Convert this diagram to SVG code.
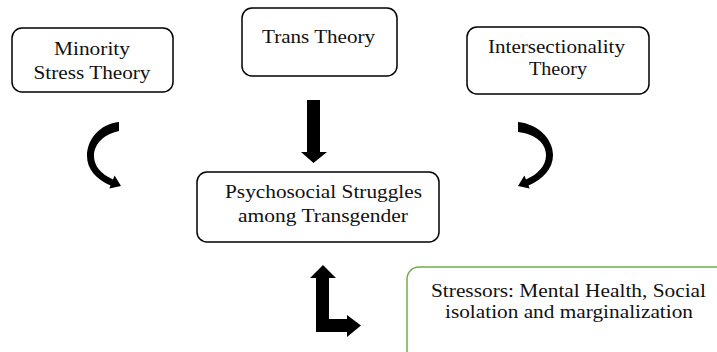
<svg xmlns="http://www.w3.org/2000/svg" width="717" height="352" viewBox="0 0 717 352">
<style>
.box{fill:#fff;stroke:#000;stroke-width:1.5}
.gbox{fill:#fff;stroke:#70AD47;stroke-width:1.5}
.t{font-family:"Liberation Serif","Times New Roman",serif;font-size:18px;fill:#111;text-anchor:middle}
.arr{fill:#000;stroke:none}
</style>
<rect width="717" height="352" fill="#fff"/>
<g id="minority">
<rect class="box" x="12" y="28" width="161" height="64" rx="10"/>
<text class="t" x="92" y="55" textLength="76" lengthAdjust="spacingAndGlyphs">Minority</text>
<text class="t" x="92" y="79" textLength="117" lengthAdjust="spacingAndGlyphs">Stress Theory</text>
</g>
<g id="trans">
<rect class="box" x="242" y="8" width="155" height="68" rx="10"/>
<text class="t" x="318.5" y="43" textLength="113" lengthAdjust="spacingAndGlyphs">Trans Theory</text>
</g>
<g id="intersectionality">
<rect class="box" x="467" y="27" width="182" height="67" rx="10"/>
<text class="t" x="556.5" y="53" textLength="137" lengthAdjust="spacingAndGlyphs">Intersectionality</text>
<text class="t" x="558" y="75" textLength="58" lengthAdjust="spacingAndGlyphs">Theory</text>
</g>
<g id="psychosocial">
<rect class="box" x="197" y="172" width="242" height="70" rx="10"/>
<text class="t" x="323.5" y="198" textLength="197" lengthAdjust="spacingAndGlyphs">Psychosocial Struggles</text>
<text class="t" x="323" y="222" textLength="170" lengthAdjust="spacingAndGlyphs">among Transgender</text>
</g>
<g id="stressors">
<rect class="gbox" x="407" y="267" width="330" height="110" rx="12"/>
<text class="t" x="568.5" y="297" textLength="275" lengthAdjust="spacingAndGlyphs">Stressors: Mental Health, Social</text>
<text class="t" x="569" y="318" textLength="248" lengthAdjust="spacingAndGlyphs">isolation and marginalization</text>
</g>
<g id="connectors">
<path class="arr" d="M119,122 C100,124 87,139 87,156 C87,169 96,179 110.5,185.5 L109.4,188.5 L121,186 L114.6,175.5 L113,179.5 C101,174 94,166 94,156 C94,144 104,134 119,131 Z"/>
<path class="arr" d="M518,122 C538,124 553,139 553,155 C553,169 543,179 528.5,185.5 L529.6,188.5 L518,186 L524.4,175.5 L526,179.5 C538,174 546,166 546,155 C546,143 535,134 518,132 Z"/>
<polygon class="arr" points="307,100 320,100 320,152 327,152 313.5,163 301,152 307,152"/>
<polygon class="arr" points="323,265 336,278 329,278 329,319 347,319 347,315 361,325.5 347,337 347,332 316,332 316,278 310,278"/>
</g>
</svg>
